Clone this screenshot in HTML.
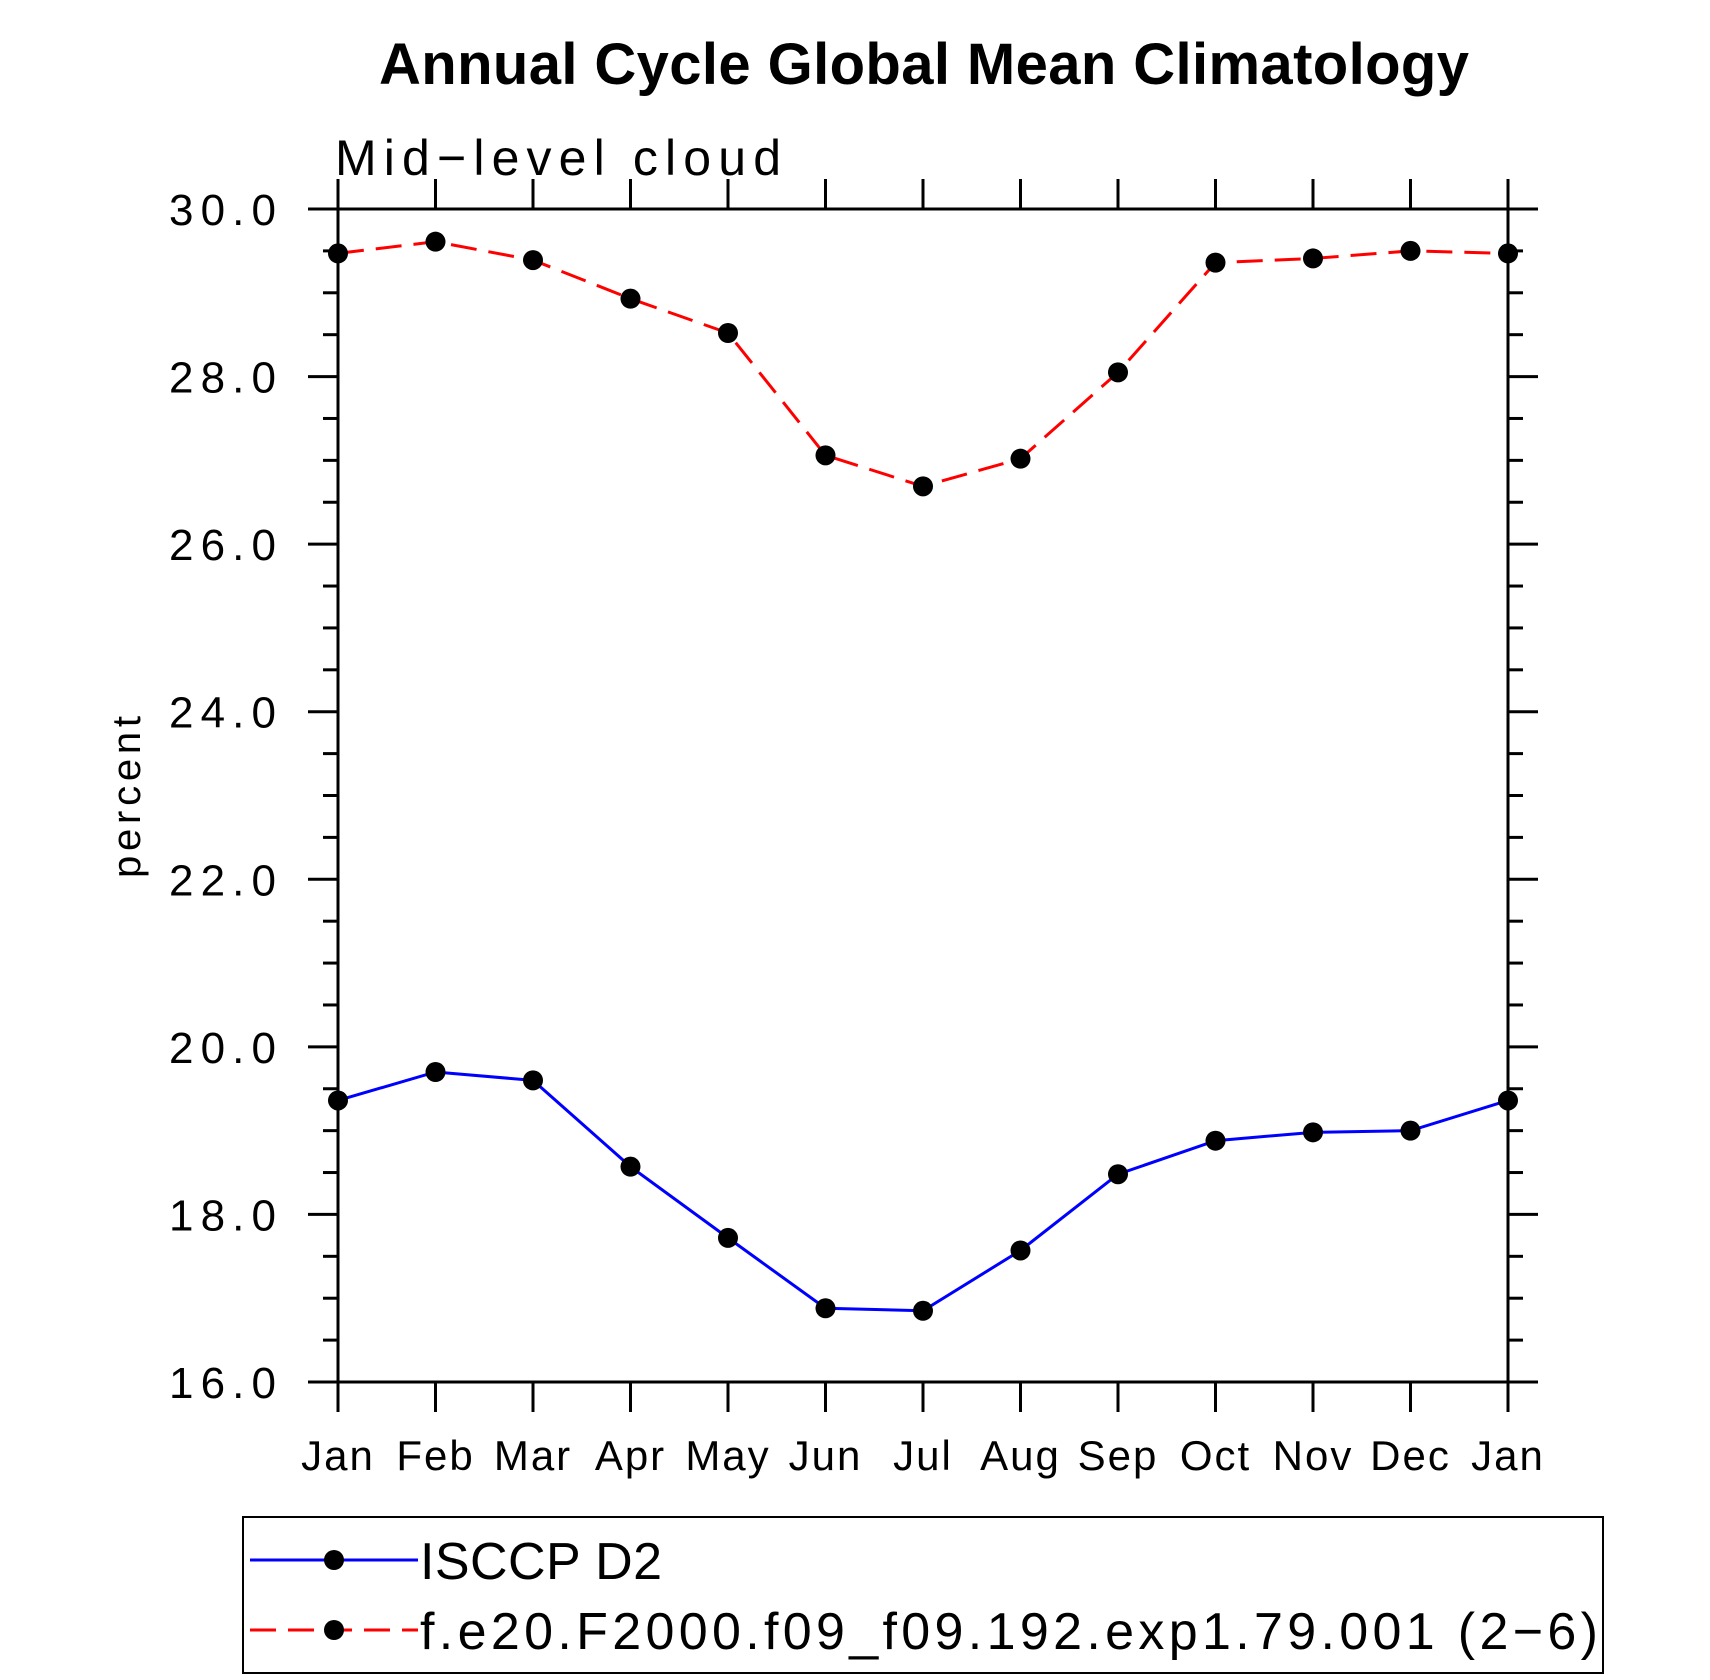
<!DOCTYPE html>
<html><head><meta charset="utf-8"><style>
html,body{margin:0;padding:0;background:#fff;}
svg{display:block;font-family:"Liberation Sans",sans-serif;}
</style></head><body>
<svg id="chart" width="1710" height="1680" viewBox="0 0 1710 1680" xmlns="http://www.w3.org/2000/svg">
<text x="379" y="84" font-size="58" font-weight="bold" textLength="1090">Annual Cycle Global Mean Climatology</text>
<text x="335" y="175" font-size="50" textLength="446">Mid−level cloud</text>
<text transform="translate(140,797) rotate(-90)" x="-81" y="0" font-size="40" textLength="162">percent</text>
<g id="axes"></g>
<g id="series"></g>
<g>
<rect x="243" y="1517" width="1360" height="156" fill="none" stroke="#000" stroke-width="2"/>
<g>
<line x1="250" y1="1560" x2="418" y2="1560" stroke="#0000ff" stroke-width="3"/>
<circle cx="334" cy="1560" r="10"/>
<text x="420" y="1579" font-size="52" textLength="242">ISCCP D2</text>
</g>
<g>
<line x1="250" y1="1630" x2="418" y2="1630" stroke="#ff0000" stroke-width="3" stroke-dasharray="26,12"/>
<circle cx="334" cy="1630" r="10"/>
<text x="420" y="1649" font-size="52" textLength="1178">f.e20.F2000.f09_f09.192.exp1.79.001 (2−6)</text>
</g>
</g>
</svg>
<script>
const months = ["Jan","Feb","Mar","Apr","May","Jun","Jul","Aug","Sep","Oct","Nov","Dec","Jan"];
const isccpValues = [19.36,19.70,19.60,18.57,17.72,16.88,16.85,17.57,18.48,18.88,18.98,19.00,19.36];
const modelValues = [29.47,29.61,29.39,28.93,28.52,27.06,26.69,27.02,28.05,29.36,29.41,29.50,29.47];
const yTickLabels = ["16.0","18.0","20.0","22.0","24.0","26.0","28.0","30.0"];

const L=338,R=1508,T=209,B=1382,yMin=16,yMax=30;
const NS="http://www.w3.org/2000/svg";
function x(i){return L+(R-L)*i/(months.length-1);}
function y(v){return B-(B-T)*(v-yMin)/(yMax-yMin);}
function mk(tag,attrs,parent){const e=document.createElementNS(NS,tag);for(const k in attrs)e.setAttribute(k,attrs[k]);parent.appendChild(e);return e;}
const axes=document.getElementById('axes');
const st={stroke:"#000","stroke-width":3};
mk('line',Object.assign({x1:308,y1:T,x2:1538,y2:T},st),axes);
mk('line',Object.assign({x1:308,y1:B,x2:1538,y2:B},st),axes);
mk('line',Object.assign({x1:L,y1:T-30,x2:L,y2:B+30},st),axes);
mk('line',Object.assign({x1:R,y1:T-30,x2:R,y2:B+30},st),axes);
months.forEach((m,i)=>{
  const xx=x(i);
  mk('line',Object.assign({x1:xx,y1:B,x2:xx,y2:B+30},st),axes);
  mk('line',Object.assign({x1:xx,y1:T,x2:xx,y2:T-30},st),axes);
  const t=mk('text',{x:xx,y:1470,"text-anchor":"middle","font-size":42,"letter-spacing":"2"},axes);
  t.textContent=m;
  
  
});
for(let v=yMin;v<=yMax+1e-9;v+=0.5){
  const yy=y(v), major=Math.abs(v%2)<1e-9, len=major?30:15;
  mk('line',Object.assign({x1:L-len,y1:yy,x2:L,y2:yy},st),axes);
  mk('line',Object.assign({x1:R,y1:yy,x2:R+len,y2:yy},st),axes);
}
yTickLabels.forEach(s=>{
  const t=mk('text',{x:169,y:y(parseFloat(s))+16,"font-size":44,textLength:107},axes);
  t.textContent=s;
  
  
});
const series=document.getElementById('series');
function draw(vals,color,dash,name){
  const g=mk('g',{},series);
  
  
  const p=mk('polyline',{points:vals.map((v,i)=>x(i)+","+y(v)).join(" "),fill:"none",stroke:color,"stroke-width":3},g);
  if(dash)p.setAttribute('stroke-dasharray',dash);
  
  vals.forEach((v,i)=>{
    const c=mk('circle',{cx:x(i),cy:y(v),r:10,fill:"#000"},g);
    
    
  });
}
draw(modelValues,"#ff0000","26,12","model-series");
draw(isccpValues,"#0000ff",null,"isccp-series");
</script>
</body></html>
